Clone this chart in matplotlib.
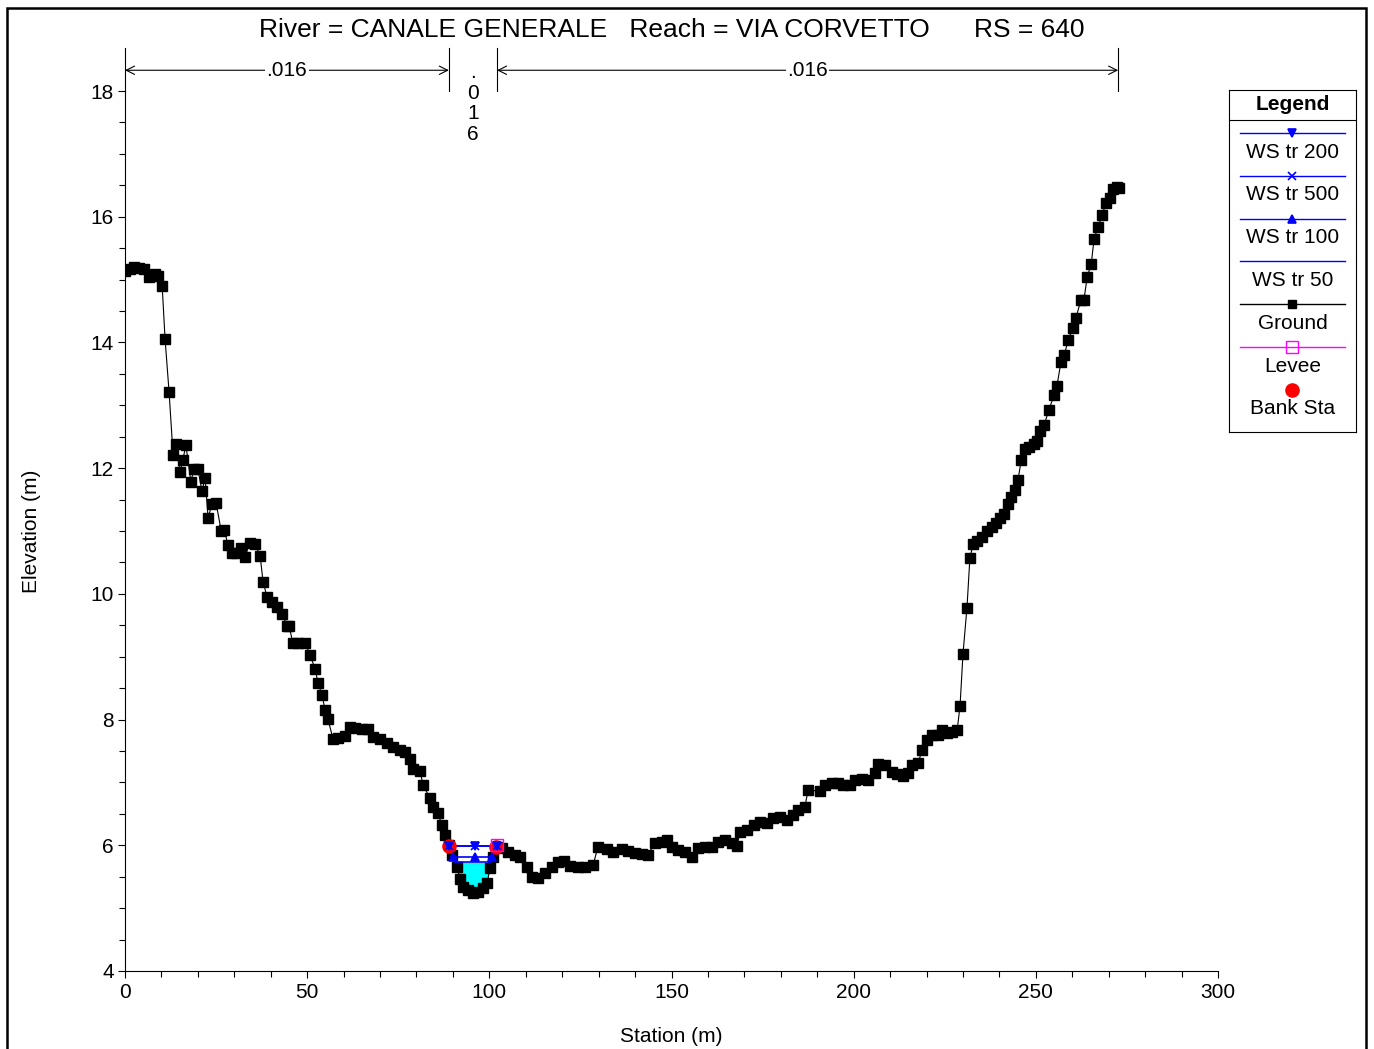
import numpy as np
import matplotlib
matplotlib.use('Agg')
import matplotlib.pyplot as plt
from matplotlib import ticker
from matplotlib.patches import Rectangle

plt.rcParams['font.family'] = ['Liberation Sans', 'DejaVu Sans']
plt.rcParams['font.size'] = 15

#%% ground profile
station = [0.0, 1.4, 2.5, 3.8, 5.2, 6.6, 7.4, 8.2, 9.1, 10.2, 11.0, 12.1, 13.2, 14.0, 15.1, 15.9,
           16.7, 18.1, 18.9, 20.0, 21.1, 22.0, 22.8, 23.9, 25.0, 26.4, 27.2, 28.3, 29.4, 30.5,
           31.8, 32.9, 34.3, 35.7, 37.1, 37.9, 39.0, 40.4, 41.7, 43.1, 44.5, 45.0, 46.1, 47.5,
           49.4, 50.8, 52.2, 53.0, 54.1, 54.9, 55.7, 57.1, 58.5, 60.4, 61.8, 63.1, 65.1, 66.7,
           68.1, 70.0, 71.9, 73.6, 75.5, 76.9, 78.2, 79.1, 81.0, 81.8, 83.7, 84.5, 85.9, 87.0,
           87.8, 88.8, 89.8, 91.1, 92.0, 92.8, 94.2, 95.5, 96.9, 98.3, 99.4, 100.2, 101.0, 102.1,
           103.5, 105.1, 107.1, 108.4, 110.3, 111.7, 113.4, 115.3, 117.2, 118.9, 120.5, 122.2,
           124.3, 126.3, 128.5, 129.8, 132.3, 134.0, 136.4, 138.1, 140.0, 141.9, 143.6, 145.4,
           147.3, 148.7, 150.2, 151.8, 153.7, 155.6, 157.3, 159.2, 161.2, 162.8, 164.7, 166.6,
           168.0, 168.8, 170.7, 172.6, 174.3, 176.2, 177.9, 179.8, 181.7, 183.4, 184.7, 186.6,
           187.5, 190.8, 192.2, 194.1, 195.7, 197.1, 199.0, 200.4, 202.3, 203.9, 205.9, 206.7,
           208.6, 210.5, 211.9, 213.6, 214.9, 216.0, 217.7, 218.8, 220.1, 221.5, 223.2, 224.3,
           225.6, 227.0, 228.4, 229.2, 230.0, 231.1, 231.9, 232.8, 233.9, 235.2, 236.6, 238.0,
           239.1, 240.2, 241.3, 242.4, 243.2, 244.3, 245.1, 246.0, 247.1, 248.1, 249.5, 250.3,
           251.2, 252.3, 253.6, 255.0, 255.8, 256.9, 257.8, 258.9, 260.2, 261.0, 262.4, 263.2,
           264.1, 265.2, 266.0, 267.1, 268.2, 269.3, 270.4, 271.2, 272.3, 272.9]
elev = [15.14, 15.17, 15.20, 15.19, 15.17, 15.04, 15.07, 15.09, 15.06, 14.90, 14.05, 13.21, 12.21,
        12.38, 11.94, 12.13, 12.37, 11.78, 11.99, 11.99, 11.64, 11.84, 11.21, 11.43, 11.45, 11.00,
        11.02, 10.78, 10.65, 10.65, 10.73, 10.59, 10.81, 10.79, 10.60, 10.19, 9.95, 9.87, 9.79,
        9.68, 9.49, 9.49, 9.22, 9.22, 9.22, 9.03, 8.80, 8.58, 8.39, 8.15, 8.01, 7.69, 7.71, 7.74,
        7.88, 7.87, 7.85, 7.85, 7.72, 7.69, 7.63, 7.56, 7.52, 7.48, 7.37, 7.21, 7.18, 6.96, 6.75,
        6.61, 6.51, 6.32, 6.16, 6.00, 5.85, 5.65, 5.46, 5.34, 5.29, 5.24, 5.26, 5.32, 5.40, 5.64,
        5.81, 5.97, 5.96, 5.89, 5.85, 5.81, 5.65, 5.50, 5.48, 5.56, 5.65, 5.73, 5.75, 5.67, 5.65,
        5.65, 5.69, 5.97, 5.94, 5.89, 5.94, 5.91, 5.88, 5.86, 5.85, 6.04, 6.05, 6.08, 5.97, 5.93,
        5.89, 5.81, 5.96, 5.97, 5.97, 6.05, 6.08, 6.04, 5.99, 6.21, 6.24, 6.32, 6.37, 6.35, 6.43,
        6.45, 6.40, 6.48, 6.56, 6.61, 6.88, 6.86, 6.96, 6.99, 6.99, 6.96, 6.96, 7.04, 7.05, 7.04,
        7.15, 7.29, 7.28, 7.17, 7.13, 7.10, 7.15, 7.28, 7.31, 7.52, 7.68, 7.75, 7.75, 7.83, 7.79,
        7.80, 7.83, 8.22, 9.04, 9.78, 10.57, 10.79, 10.84, 10.90, 11.00, 11.06, 11.13, 11.21,
        11.27, 11.43, 11.54, 11.65, 11.81, 12.13, 12.30, 12.34, 12.38, 12.43, 12.59, 12.69,
        12.93, 13.16, 13.31, 13.69, 13.80, 14.04, 14.23, 14.39, 14.68, 14.68, 15.04, 15.25,
        15.65, 15.84, 16.03, 16.22, 16.30, 16.44, 16.47, 16.46]

#%% water surfaces
ws_names = ['WS tr 200', 'WS tr 500', 'WS tr 100', 'WS tr 50']
ws_elev = [5.99, 5.99, 5.82, 5.73]
ws_left = [88.8, 88.8, 89.9, 90.6]
ws_right = [102.0, 102.0, 100.9, 100.4]
ws_mark_sta = [[88.8, 96.1, 102.0], [88.8, 96.1, 102.0], [90.0, 96.1, 100.7], []]
ws_markers = ['v', 'x', '^', None]

bank_sta = [88.8, 101.9]
bank_elev = [5.99, 5.97]
levee_sta = [102.1]
levee_elev = [6.0]

n_bounds = [0.0, 88.9, 102.1, 272.6]
n_values = ['.016', '.016', '.016']

title = 'River = CANALE GENERALE   Reach = VIA CORVETTO      RS = 640'

#%%
W, H = 1374, 1049
fig = plt.figure(figsize=(W / 100, H / 100), dpi=100)
ax = fig.add_axes([125 / W, 1 - 971 / H, 1093 / W, 880 / H])

st = np.array(station)
el = np.array(elev)

# filled water for the lowest profile
ws50 = ws_elev[3]
inside = (st >= ws_left[3] - 1.0) & (st <= ws_right[3] + 1.0)
ax.fill_between(st, el, ws50, where=inside & (el < ws50), interpolate=True,
                color='#00ffff', lw=0, zorder=1)

ax.plot(st, el, color='k', lw=0.8, marker='s', ms=6.5, mec='k', mfc='k', zorder=2)

for i in range(len(ws_names)):
    ax.plot([ws_left[i], ws_right[i]], [ws_elev[i]] * 2, color='#0000ff', lw=1.2, zorder=3)
    if ws_markers[i] is not None:
        ax.plot(ws_mark_sta[i], [ws_elev[i]] * len(ws_mark_sta[i]), ls='none',
                marker=ws_markers[i], ms=6, color='#0000ff', mew=1.2, zorder=5)

ax.plot(bank_sta, bank_elev, ls='none', marker='o', ms=9.5, color='#ff0000', zorder=4)
ax.plot(levee_sta, levee_elev, ls='none', marker='s', ms=9, mfc='none', mec='#ff00ff',
        mew=1, zorder=6)

# manning's n annotations above the plot
y_lo, y_hi, y_arr = 18.0, 18.68, 18.33
for b in n_bounds:
    ax.plot([b, b], [y_lo, y_hi], color='k', lw=0.8, clip_on=False)
for i, n in enumerate(n_values):
    x0, x1 = n_bounds[i], n_bounds[i + 1]
    xm = (x0 + x1) / 2
    if x1 - x0 > 30:
        ax.annotate('', xy=(x0, y_arr), xytext=(x1, y_arr), annotation_clip=False,
                    arrowprops=dict(arrowstyle='<->', color='k', lw=0.8,
                                    shrinkA=0, shrinkB=0))
        ax.text(xm, y_arr, n, ha='center', va='center', fontsize=15, clip_on=False,
                bbox=dict(facecolor='white', edgecolor='none', pad=1))
    else:
        ax.text(xm, 17.8, '\n'.join(n), ha='center', va='center', fontsize=15,
                linespacing=1.12, clip_on=False)

ax.set_xlim(0, 300)
ax.set_ylim(4, 18)
ax.spines['top'].set_visible(False)
ax.spines['right'].set_visible(False)
ax.set_xticks(np.arange(0, 301, 50))
ax.set_xticks(np.arange(0, 301, 10), minor=True)
ax.set_yticks(np.arange(4, 19, 2))
ax.set_yticks(np.arange(4, 18.01, 0.5), minor=True)
ax.tick_params(which='major', length=5, width=0.8, labelsize=15, pad=3)
ax.tick_params(which='minor', length=4.5, width=0.8)
ax.tick_params(axis='x', which='major', pad=4)

ax.set_xlabel('Station (m)', fontsize=15)
ax.set_ylabel('Elevation (m)', fontsize=15)
ax.xaxis.set_label_coords(0.5, -0.064)
ax.yaxis.set_label_coords(-0.0765, 0.5)

fig.text(672 / W, 1 - 30 / H, title, ha='center', va='center', fontsize=19)

# legend box
legend_labels = ws_names + ['Ground', 'Levee', 'Bank Sta']
lg = fig.add_axes([1229 / W, 1 - 432 / H, 127 / W, 342 / H])
lg.set_xlim(0, 127)
lg.set_ylim(342, 0)
lg.set_xticks([])
lg.set_yticks([])
for s in lg.spines.values():
    s.set_linewidth(0.8)
lg.text(63.5, 14, 'Legend', weight='bold', ha='center', va='center', fontsize=15)
lg.axhline(30, color='k', lw=0.8)
row = 42.8
for i, lab in enumerate(legend_labels):
    yl = 43 + i * row
    if lab.startswith('WS'):
        lg.plot([11, 116], [yl, yl], color='#0000ff', lw=1)
        if ws_markers[i] is not None:
            lg.plot([63], [yl], marker=ws_markers[i], ms=6, color='#0000ff', mew=1.2)
    elif lab == 'Ground':
        lg.plot([11, 116], [yl, yl], color='k', lw=1)
        lg.plot([63], [yl], marker='s', ms=6, color='k')
    elif lab == 'Levee':
        lg.plot([11, 116], [yl, yl], color='#ff00ff', lw=1)
        lg.plot([63], [yl], marker='s', ms=9, mfc='none', mec='#ff00ff', mew=1)
    else:
        lg.plot([63], [yl], marker='o', ms=9.5, color='#ff0000')
    lg.text(63.5, yl + 19, lab, ha='center', va='center', fontsize=15)

# outer frame
fig.patches.append(Rectangle((7 / W, -0.01), (1366 - 7) / W, 1.01 - 8 / H,
                             transform=fig.transFigure, fill=False, lw=1.8, ec='k'))

fig.savefig('out.png', dpi=100)
